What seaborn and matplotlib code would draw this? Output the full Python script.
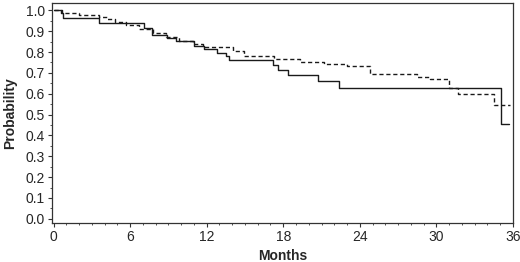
import numpy as np
import pandas as pd
import matplotlib
matplotlib.use('Agg')
import matplotlib.pyplot as plt
from matplotlib.ticker import MultipleLocator
import seaborn as sns

sns.set_style('ticks')
plt.rcParams['font.family'] = ['Liberation Sans', 'DejaVu Sans']

# Kaplan-Meier style step curves (month, survival probability)
solid_months = [0, 0.6, 0.73, 3.6, 7.1, 7.75, 8.9, 9.6, 11.0, 11.8, 12.8, 13.5, 13.75,
                17.2, 17.6, 18.4, 20.7, 22.4, 35.1, 35.7]
solid_prob = [1.0, 0.985, 0.963, 0.938, 0.914, 0.883, 0.867, 0.851, 0.83, 0.815, 0.794,
              0.779, 0.76, 0.736, 0.712, 0.689, 0.662, 0.629, 0.457, 0.457]

dashed_months = [0, 0.68, 2.0, 3.6, 4.2, 4.8, 5.7, 6.7, 7.8, 8.8, 9.8, 10.9, 11.7, 14.1,
                 14.9, 17.3, 19.3, 21.2, 23.0, 24.8, 28.5, 29.5, 31.0, 31.7, 34.5, 35.8]
dashed_prob = [1.0, 0.985, 0.977, 0.968, 0.957, 0.946, 0.928, 0.909, 0.89, 0.87, 0.853,
               0.84, 0.825, 0.805, 0.783, 0.765, 0.752, 0.744, 0.733, 0.696, 0.68,
               0.672, 0.629, 0.597, 0.544, 0.544]

df_solid = pd.DataFrame({'Months': solid_months, 'Probability': solid_prob})
df_dashed = pd.DataFrame({'Months': dashed_months, 'Probability': dashed_prob})

fig = plt.figure(figsize=(5.2, 2.62), dpi=100)
ax = fig.add_axes([0.1, 0.149, 0.8865, 0.8395])

sns.lineplot(data=df_solid, x='Months', y='Probability', ax=ax, color='#1a1a1a',
             linewidth=1.0, drawstyle='steps-post', estimator=None)
sns.lineplot(data=df_dashed, x='Months', y='Probability', ax=ax, color='#1a1a1a',
             linewidth=1.0, linestyle=(0, (3, 2)), drawstyle='steps-post', estimator=None)

ax.set_xlim(-0.12, 36)
ax.set_ylim(-0.02, 1.035)
ax.set_xticks(np.arange(0, 37, 6))
ax.set_yticks(np.arange(0, 1.01, 0.1))
ax.set_yticklabels([f'{v:.1f}' for v in np.arange(0, 1.01, 0.1)])
ax.xaxis.set_minor_locator(MultipleLocator(1))
ax.yaxis.set_minor_locator(MultipleLocator(0.05))
ax.tick_params(which='major', length=3, width=0.8, labelsize=10, pad=2, color='#333333')
ax.tick_params(which='minor', length=1.5, width=0.6, color='#333333')

for s in ax.spines.values():
    s.set_linewidth(0.9)
    s.set_color('#333333')

ax.set_xlabel('Months', fontsize=10, fontweight='bold', labelpad=4)
ax.set_ylabel('Probability', fontsize=10, fontweight='bold', labelpad=6)

plt.savefig('out.png', dpi=100)
plt.close('all')
